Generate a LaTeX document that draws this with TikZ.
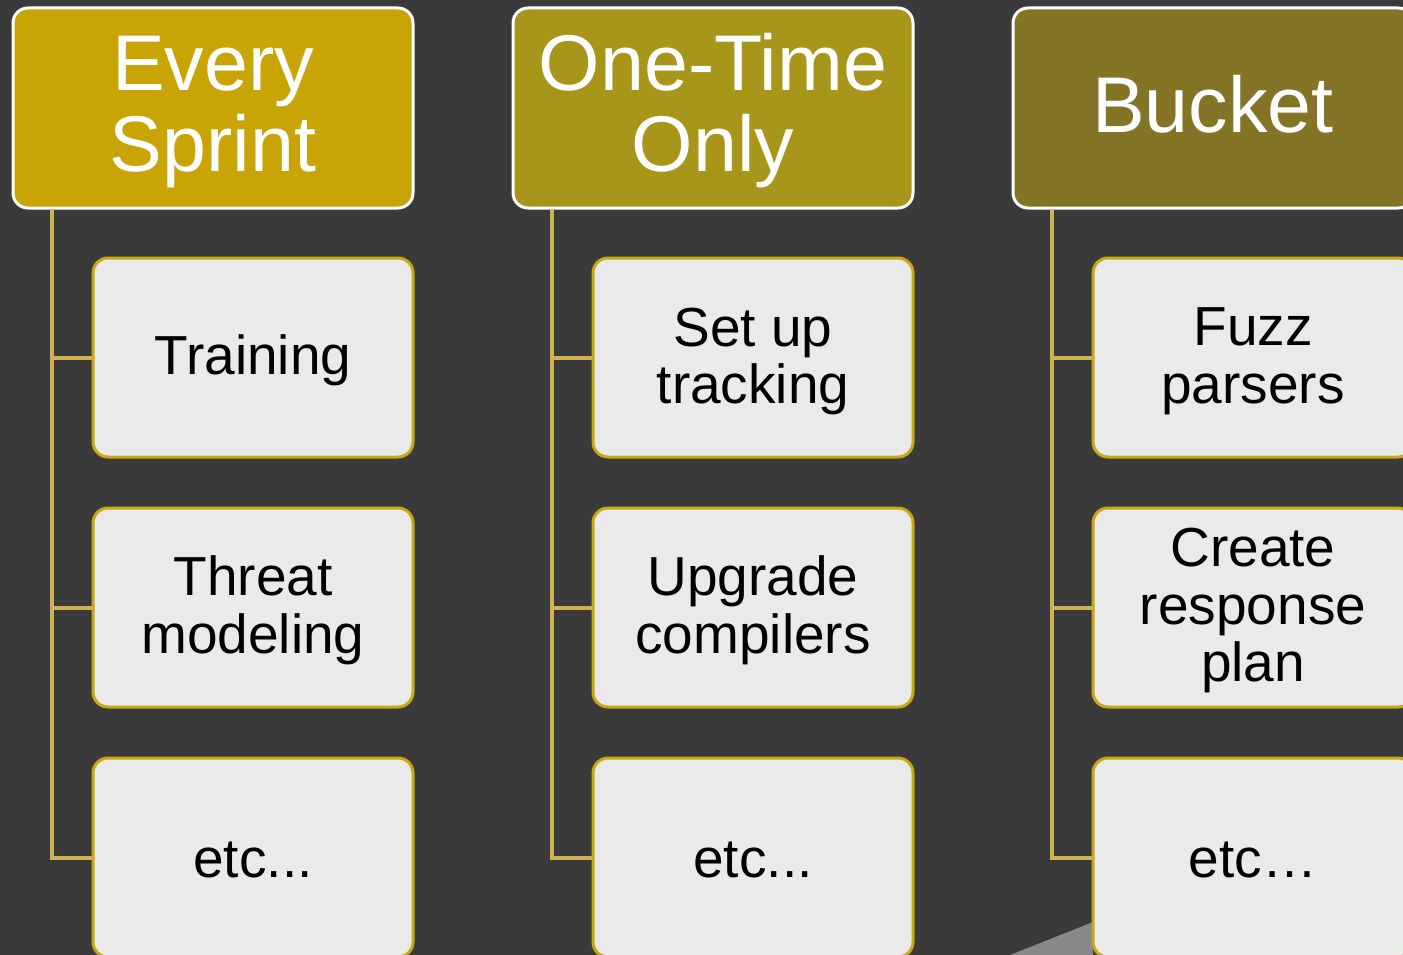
\documentclass[tikz,border=0pt]{standalone}
\usepackage{fontspec}
\setmainfont{Liberation Sans}
\usetikzlibrary{calc}
\definecolor{bg}{HTML}{3A3A3A}
\definecolor{hA}{HTML}{C8A404}
\definecolor{hB}{HTML}{A8961A}
\definecolor{hC}{HTML}{847426}
\definecolor{childfill}{HTML}{EAEAEA}
\definecolor{childedge}{HTML}{C9A812}
\definecolor{connc}{HTML}{CFB253}
\definecolor{shadowgray}{HTML}{888888}
\begin{document}
\begin{tikzpicture}[x=1pt,y=-1pt,
  header/.style={draw=white, line width=3pt, rounded corners=15pt,
    minimum width=400pt, minimum height=200pt, inner sep=0pt},
  headtext/.style={text=white, align=center, inner sep=0pt, font=\fontsize{79}{81}\selectfont},
  child/.style={draw=childedge, fill=childfill, line width=3pt, rounded corners=15pt,
    minimum width=320pt, minimum height=199pt, inner sep=0pt},
  childtext/.style={text=black, align=center, inner sep=0pt, font=\fontsize{55}{57.5}\selectfont},
  conn/.style={draw=connc, line width=4pt}]
\fill[bg] (0,0) rectangle (1403,955);
\useasboundingbox (0,0) rectangle (1403,955);
\clip (0,0) rectangle (1403,955);
% headers
\node[header, fill=hA] (h1) at (213,108) {};
\node[header, fill=hB] (h2) at (713,108) {};
\node[header, fill=hC] (h3) at (1213,108) {};
\node[headtext] (h1t) at ($(h1.center)+(0,4)$) {Every\\Sprint};
\node[headtext] (h2t) at ($(h2.center)+(0,3)$) {One-Time\\Only};
\node[headtext] (h3t) at ($(h3.center)+(0,-4)$) {Bucket};
% trunk coordinates
\coordinate (t1) at ($(h1.south west)+(40,0)$);
\coordinate (t2) at ($(h2.south west)+(40,0)$);
\coordinate (t3) at ($(h3.south west)+(40,0)$);
% shadow piece
\fill[shadowgray] (1010,955) -- (1093,922) -- (1093,955) -- cycle;
% children
\node[child] (c11) at (253,357.5) {};
\node[child] (c12) at (253,607.5) {};
\node[child] (c13) at (253,857.5) {};
\node[child] (c21) at (753,357.5) {};
\node[child] (c22) at (753,607.5) {};
\node[child] (c23) at (753,857.5) {};
\node[child] (c31) at (1253,357.5) {};
\node[child] (c32) at (1253,607.5) {};
\node[child] (c33) at (1253,857.5) {};
\node[childtext] (c11t) at ($(c11.center)+(0,3)$) {Training};
\node[childtext] (c12t) at ($(c12.center)+(0,3)$) {Threat\\modeling};
\node[childtext] (c13t) at ($(c13.center)+(0,2)$) {etc...};
\node[childtext] (c21t) at ($(c21.center)+(0,4)$) {Set up\\tracking};
\node[childtext] (c22t) at ($(c22.center)+(0,3)$) {Upgrade\\compilers};
\node[childtext] (c23t) at ($(c23.center)+(0,2)$) {etc...};
\node[childtext] (c31t) at ($(c31.center)+(0,4)$) {Fuzz\\parsers};
\node[childtext] (c32t) at ($(c32.center)+(0,3)$) {Create\\response\\plan};
\node[childtext] (c33t) at ($(c33.center)+(0,2)$) {etc…};
% connectors
\foreach \c in {1,2,3}{
  \draw[conn] (t\c) |- (c\c1.west);
  \draw[conn] (t\c) |- (c\c2.west);
  \draw[conn] (t\c) |- (c\c3.west);
}
\end{tikzpicture}
\end{document}
